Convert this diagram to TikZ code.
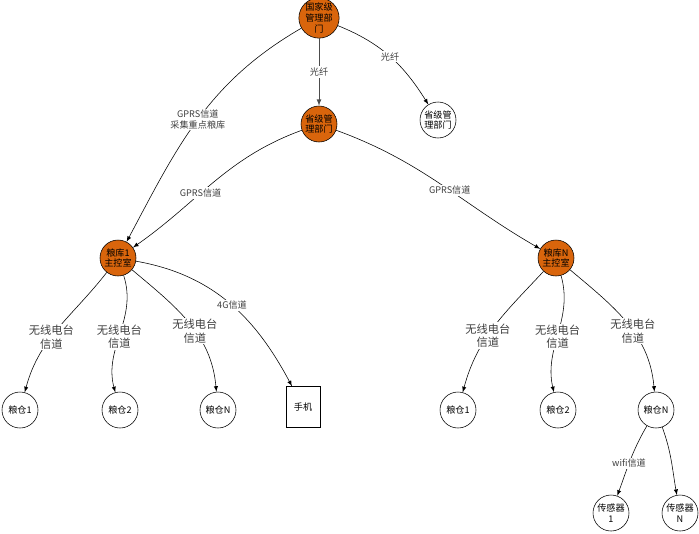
\documentclass[tikz,border=0pt]{standalone}
\usepackage{fontspec}
\setmainfont{Noto Sans CJK SC}
\definecolor{lkorange}{RGB}{217,101,12}
\tikzset{
  unit/.style={draw, circle, minimum size=0.9cm, inner sep=0pt, align=center,
               font=\fontsize{6.5}{7.5}\selectfont},
  hub/.style={unit, fill=lkorange},
  chan/.style={fill=white, inner sep=1pt, align=center, text=black!75,
               font=\fontsize{6.5}{7.5}\selectfont},
  radio/.style={chan, font=\fontsize{8}{9.5}\selectfont},
}
\begin{document}
\begin{tikzpicture}[>=latex, font=\small]
  \useasboundingbox (0,0) rectangle (17.475,-13.325);

  % ── 管理部门 ─────────────────────────────────
  \node[hub] (guojia) at (7.975,-0.45) {国家级\\管理部\\门};
  \node[hub] (shengji) at (7.975,-3.1) {省级管\\理部门};
  \node[unit] (shengji2) at (10.95,-3.0) {省级管\\理部门};

  % ── 粮库主控室 ───────────────────────────────
  \node[hub] (lk1) at (2.95,-6.45) {粮库1\\主控室};
  \node[hub] (lkn) at (13.9,-6.45) {粮库N\\主控室};

  % ── 粮仓 / 终端 ──────────────────────────────
  \node[unit] (c11) at (0.5,-10.25) {粮仓1};
  \node[unit] (c12) at (3.0,-10.25) {粮仓2};
  \node[unit] (c1n) at (5.45,-10.25) {粮仓N};
  \node[draw, minimum width=0.85cm, minimum height=1.025cm, inner sep=0pt,
        font=\fontsize{6.5}{7.5}\selectfont] (phone) at (7.575,-10.175) {手机};
  \node[unit] (cn1) at (11.45,-10.25) {粮仓1};
  \node[unit] (cn2) at (13.95,-10.25) {粮仓2};
  \node[unit] (cnn) at (16.4,-10.25) {粮仓N};
  \node[unit] (s1) at (15.275,-12.825) {传感器\\1};
  \node[unit] (sn) at (17.0,-12.825) {传感器\\N};

  % ── 连线 ─────────────────────────────────────
  \draw[->, black!70, semithick] (guojia) -- (shengji) node[chan, midway] {光纤};
  \draw[->] (guojia) to[out=-22, in=122] node[chan, pos=0.5] {光纤} (shengji2);
  \draw[->] (guojia) to[out=-150, in=62]
    node[chan, pos=0.5] {GPRS信道\\采集重点粮库} (lk1);
  \draw[->] (shengji) to[out=-160, in=35] node[chan, pos=0.59] {GPRS信道} (lk1);
  \draw[->] (shengji) to[out=-20, in=150] node[chan, pos=0.55] {GPRS信道} (lkn);

  \draw[->] (lk1) to[out=-128, in=75] node[radio, pos=0.58] {无线电台\\信道} (c11);
  \draw[->] (lk1) to[out=-72, in=105] node[radio, pos=0.53] {无线电台\\信道} (c12);
  \draw[->] (lk1) to[out=-40, in=95] node[radio, pos=0.57] {无线电台\\信道} (c1n);
  \draw[->] (lk1) to[out=-10, in=118] node[chan, pos=0.52] {4G信道} (phone);

  \draw[->] (lkn) to[out=-133, in=75] node[radio, pos=0.58] {无线电台\\信道} (cn1);
  \draw[->] (lkn) to[out=-74, in=103] node[radio, pos=0.53] {无线电台\\信道} (cn2);
  \draw[->] (lkn) to[out=-40, in=95] node[radio, pos=0.57] {无线电台\\信道} (cnn);

  \draw[->] (cnn) to[out=-120, in=70] node[chan, pos=0.55] {wifi信道} (s1);
  \draw[->] (cnn) to[out=-70, in=100] (sn);
\end{tikzpicture}
\end{document}
